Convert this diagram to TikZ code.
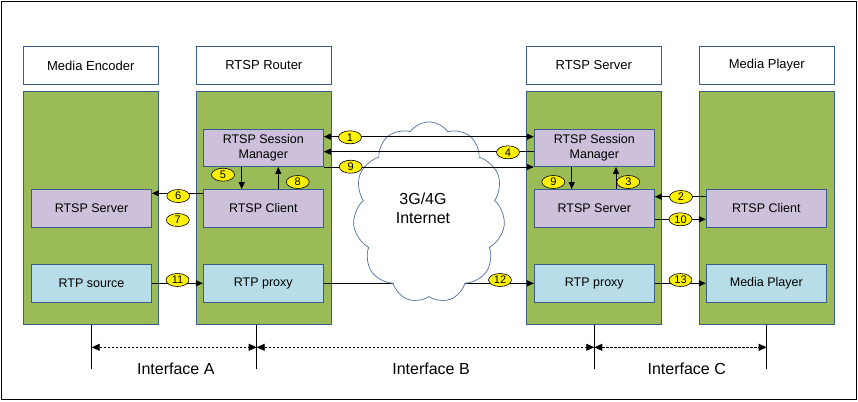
\documentclass[tikz,border=0pt]{standalone}
\usepackage{fontspec}
\setmainfont{Liberation Sans}
\usetikzlibrary{shapes.symbols,shapes.geometric,arrows.meta,calc}
\definecolor{bordblue}{HTML}{385D8A}
\definecolor{boxgreen}{HTML}{9BBB59}
\definecolor{boxpurple}{HTML}{CCC0DA}
\definecolor{boxcyan}{HTML}{B7DEE8}
\definecolor{cloudline}{HTML}{4F6FA0}
\begin{document}
\begin{tikzpicture}[x=1pt,y=-1pt,
  header/.style={draw=bordblue,line width=0.9pt,fill=white,minimum width=135pt,minimum height=37.5pt,inner sep=0pt,font=\fontsize{13}{15}\selectfont},
  greenbox/.style={draw=bordblue,line width=0.9pt,fill=boxgreen,minimum width=135pt,minimum height=233pt,inner sep=0pt},
  ctrlbox/.style={draw=bordblue,line width=0.9pt,fill=boxpurple,minimum width=120pt,minimum height=37.5pt,inner sep=0pt,align=center,font=\fontsize{12.5}{15.5}\selectfont},
  databox/.style={draw=bordblue,line width=0.9pt,fill=boxcyan,minimum width=120pt,minimum height=38pt,inner sep=0pt,font=\fontsize{12.5}{15}\selectfont},
  num/.style={ellipse,draw=black,line width=0.6pt,fill=yellow,minimum width=23pt,minimum height=13pt,inner sep=0pt,font=\fontsize{11}{11}\selectfont},
  arr/.style={line width=0.9pt,-{Triangle[length=7pt,width=6pt]}},
  darr/.style={line width=0.9pt,{Triangle[length=7pt,width=6pt]}-{Triangle[length=7pt,width=6pt]}},
  ifarr/.style={line width=0.8pt,dashed,dash pattern=on 2.5pt off 1.5pt,{Triangle[length=8pt,width=7pt]}-{Triangle[length=8pt,width=7pt]}},
  tick/.style={line width=0.9pt},
  iflabel/.style={font=\fontsize{16}{18}\selectfont,inner sep=0pt}
]
\useasboundingbox (0,0) rectangle (858,401);
\draw[line width=1.5pt] (1.5,1.5) rectangle (856.5,399.5);

% headers
\node[header] (hME) at (90.8,65.5) {Media Encoder};
\node[header] (hRR) at (263.8,65.5) {RTSP Router};
\node[header] (hRS) at (593.8,65.5) {RTSP Server};
\node[header] (hMP) at (766.8,65.5) {Media Player};

% green bodies
\node[greenbox] (gME) at (90.8,207.8) {};
\node[greenbox] (gRR) at (263.8,207.8) {};
\node[greenbox] (gRS) at (593.8,207.8) {};
\node[greenbox] (gMP) at (766.8,207.8) {};

% inner boxes
\node[ctrlbox] (rsm) at (263.3,147.7) {RTSP Session\\Manager};
\node[ctrlbox] (ssm) at (594.3,147.7) {RTSP Session\\Manager};
\node[ctrlbox] (ers) at (91.5,208.3) {RTSP Server};
\node[ctrlbox] (rrc) at (263.3,208.3) {RTSP Client};
\node[ctrlbox] (srs) at (594.3,208.3) {RTSP Server};
\node[ctrlbox] (prc) at (766.3,208.3) {RTSP Client};
\node[databox] (src) at (91.5,283.3) {RTP source};
\node[databox] (rpx) at (263.3,283.3) {RTP proxy};
\node[databox] (spx) at (594.3,283.3) {RTP proxy};
\node[databox] (mpl) at (766.3,283.3) {Media Player};

% RTP line through the internet (under the cloud)
\draw[arr] (rpx.east) -- (spx.west);

% cloud
\node[cloud,cloud puffs=11,cloud puff arc=110,cloud ignores aspect,draw=cloudline,line width=0.7pt,fill=white,minimum width=152pt,minimum height=181pt,inner sep=0pt] (net) at (429,212.4) {};
\node[align=center,font=\fontsize{16}{19}\selectfont,inner sep=0pt] (nettext) at (423,208) {3G/4G\\Internet};

% session manager links
\draw[darr] (rsm.east |- 0,136.7) -- (ssm.west |- 0,136.7);
\draw[arr] (ssm.west |- 0,151.7) -- (rsm.east |- 0,151.7);
\draw[arr] (rsm.east |- 0,167) -- (ssm.west |- 0,167);

% router internal
\draw[arr] (rsm.south -| 241.7,0) -- (rrc.north -| 241.7,0);
\draw[arr] (rrc.north -| 278.3,0) -- (rsm.south -| 278.3,0);
% server internal
\draw[arr] (ssm.south -| 571.7,0) -- (srs.north -| 571.7,0);
\draw[arr] (srs.north -| 616,0) -- (ssm.south -| 616,0);

% side links
\draw[arr] (rrc.west |- 0,193.3) -- (ers.east |- 0,193.3);
\draw[arr] (prc.west |- 0,196.7) -- (srs.east |- 0,196.7);
\draw[arr] (srs.east |- 0,219.3) -- (prc.west |- 0,219.3);
\draw[arr] (src.east) -- (rpx.west);
\draw[arr] (spx.east) -- (mpl.west);

% numbers
\node[num] (n1) at (350,137.3) {1};
\node[num] (n4) at (508,152.3) {4};
\node[num] (n9a) at (350.7,166.7) {9};
\node[num] (n5) at (223,174.7) {5};
\node[num] (n8) at (297.8,182) {8};
\node[num] (n9b) at (553.3,182) {9};
\node[num] (n3) at (628.3,182) {3};
\node[num] (n6) at (178.3,196) {6};
\node[num] (n7) at (177.8,220) {7};
\node[num] (n2) at (681,197) {2};
\node[num] (n10) at (680.5,219.3) {10};
\node[num] (n11) at (177.5,280) {11};
\node[num] (n12) at (500,280) {12};
\node[num] (n13) at (680.5,280) {13};

% interface ticks
\coordinate (tA) at (gME.south -| 91.7,0);
\coordinate (tB) at (gRR.south -| 256.7,0);
\coordinate (tC) at (gRS.south -| 594.3,0);
\coordinate (tD) at (gMP.south -| 766.7,0);
\coordinate (eA) at (91.7,369.3);
\coordinate (eB) at (256.7,369.3);
\coordinate (eC) at (594.3,369.3);
\coordinate (eD) at (766.7,369.3);
\draw[tick] (tA) -- (eA);
\draw[tick] (tB) -- (eB);
\draw[tick] (tC) -- (eC);
\draw[tick] (tD) -- (eD);
\draw[ifarr] (tA |- 0,347.3) -- (tB |- 0,347.3);
\draw[ifarr] (tB |- 0,347.3) -- (tC |- 0,347.3);
\draw[ifarr] (tC |- 0,347.3) -- (tD |- 0,347.3);
\node[iflabel] (lA) at (175.8,369) {Interface A};
\node[iflabel] (lB) at (431,369) {Interface B};
\node[iflabel] (lC) at (686.7,369) {Interface C};
\end{tikzpicture}
\end{document}
